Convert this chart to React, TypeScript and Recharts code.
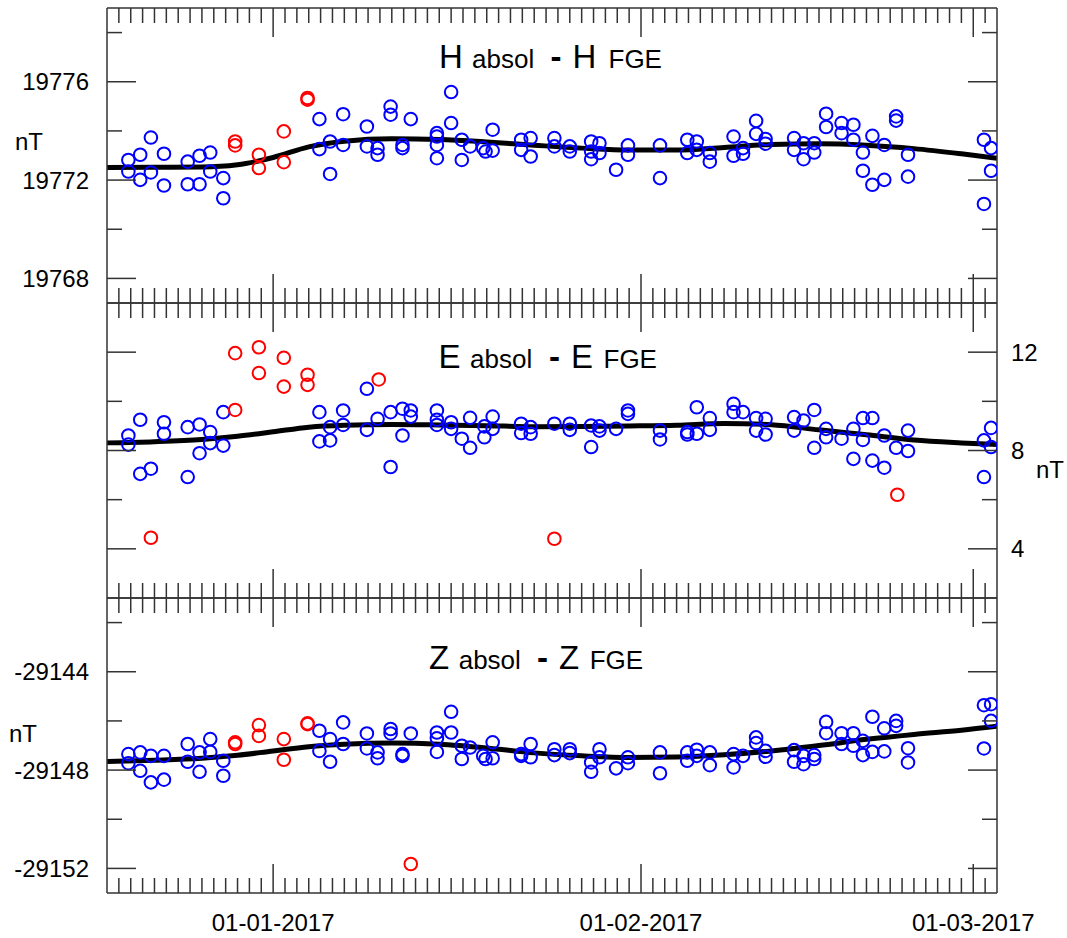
import { ComposedChart, Line, Scatter, XAxis, YAxis } from "recharts";

// x values are days counted from 01-01-2017
const xDomain = [-14, 61];
const dayTicks = Array.from({ length: 74 }, (_, i) => i - 13);
const monthStarts = [0, 31, 59];
const monthLabels = ["01-01-2017", "01-02-2017", "01-03-2017"];

const hTicks = [19768, 19770, 19772, 19774, 19776, 19778];
const hLabels = [19768, 19772, 19776];
const eTicks = [4, 6, 8, 10, 12];
const eLabels = [4, 8, 12];
const zTicks = [-29152, -29150, -29148, -29146, -29144, -29142];
const zLabels = [-29152, -29148, -29144];

const hBlue: [number, number][] = [
  [-12.2, 19772.82], [-12.2, 19772.35], [-11.2, 19773.03], [-11.2, 19772.01],
  [-10.3, 19773.73], [-10.3, 19772.31], [-9.2, 19773.07], [-9.2, 19771.78],
  [-7.2, 19772.75], [-7.2, 19771.83], [-6.2, 19772.99], [-6.2, 19771.83],
  [-5.3, 19773.12], [-5.3, 19772.35], [-4.2, 19772.08], [-4.2, 19771.26],
  [3.9, 19774.48], [3.9, 19773.26], [4.8, 19773.57], [4.8, 19772.25],
  [5.9, 19774.68], [5.9, 19773.43], [7.9, 19774.18], [7.9, 19773.37],
  [8.8, 19773.3], [8.8, 19773.03], [9.9, 19774.99], [9.9, 19774.66],
  [10.9, 19773.43], [10.9, 19773.3], [11.6, 19774.48],
  [13.8, 19773.91], [13.8, 19773.77], [13.8, 19773.43], [13.8, 19772.89],
  [15.0, 19775.58], [15.0, 19774.32], [15.9, 19773.64], [15.9, 19772.82],
  [16.6, 19773.37], [17.7, 19773.3], [17.9, 19773.16], [18.5, 19774.05], [18.5, 19773.2],
  [20.9, 19773.64], [20.9, 19773.23], [21.7, 19773.71], [21.7, 19772.96],
  [23.7, 19773.71], [23.7, 19773.37], [25.0, 19773.37], [25.0, 19773.16],
  [26.8, 19773.57], [26.8, 19773.16], [26.8, 19772.85], [27.5, 19773.5], [27.5, 19773.1],
  [28.9, 19772.42], [29.9, 19773.41], [29.9, 19773.03], [32.6, 19773.41], [32.6, 19772.08],
  [34.9, 19773.64], [34.9, 19773.1], [35.7, 19773.57], [35.7, 19773.23],
  [36.8, 19773.1], [36.8, 19772.75], [38.8, 19773.77], [38.8, 19772.99],
  [39.6, 19773.3], [39.6, 19773.07], [40.7, 19774.41], [40.7, 19773.88],
  [41.5, 19773.67], [41.5, 19773.48], [43.9, 19773.71], [43.9, 19773.23],
  [44.7, 19773.5], [44.7, 19772.85], [45.6, 19773.5], [45.6, 19773.12],
  [46.6, 19774.7], [46.6, 19774.16], [47.9, 19774.32], [47.9, 19773.91],
  [48.9, 19774.25], [48.9, 19773.64], [49.7, 19773.12], [49.7, 19772.38],
  [50.5, 19773.8], [50.5, 19771.81], [51.5, 19773.43], [51.5, 19772.01],
  [52.5, 19774.59], [52.5, 19774.42], [53.5, 19773.03], [53.5, 19772.14],
  [59.9, 19773.64], [59.9, 19771.03], [60.5, 19773.3], [60.5, 19772.38],
];
const hRed: [number, number][] = [
  [-3.2, 19773.57], [-3.2, 19773.41], [-1.2, 19773.03], [-1.2, 19772.49],
  [0.9, 19773.98], [0.9, 19772.73], [2.9, 19775.34], [2.9, 19775.27],
];
const hCurve: [number, number][] = [
  [-14, 19772.51], [-10, 19772.52], [-6, 19772.53], [-3, 19772.62], [0, 19772.92],
  [3, 19773.35], [6, 19773.58], [10, 19773.68], [14, 19773.65], [18, 19773.55],
  [22, 19773.42], [26, 19773.3], [30, 19773.22], [34, 19773.22], [38, 19773.33],
  [42, 19773.45], [46, 19773.48], [50, 19773.42], [54, 19773.28], [58, 19773.07], [61, 19772.89],
];

const eBlue: [number, number][] = [
  [-12.2, 8.61], [-12.2, 8.24], [-11.2, 9.25], [-11.2, 7.05], [-10.3, 7.26],
  [-9.2, 9.15], [-9.2, 8.68], [-7.2, 8.95], [-7.2, 6.92], [-6.2, 9.06], [-6.2, 7.89],
  [-5.3, 8.75], [-5.3, 8.3], [-4.2, 9.56], [-4.2, 8.2],
  [3.9, 9.56], [3.9, 8.37], [4.8, 8.95], [4.8, 8.41], [5.9, 9.63], [5.9, 9.04],
  [7.9, 10.51], [7.9, 8.84], [8.8, 9.29], [9.9, 9.56], [9.9, 7.33], [10.9, 9.7], [10.9, 8.61],
  [11.6, 9.63], [11.6, 9.38], [13.8, 9.63], [13.8, 9.25], [13.8, 9.04], [15.0, 9.15], [15.0, 8.88],
  [15.9, 8.48], [16.6, 9.33], [16.6, 8.11], [17.8, 8.98], [17.8, 8.54], [18.5, 9.38], [18.5, 8.88],
  [20.9, 9.09], [20.9, 8.71], [21.7, 8.95], [21.7, 8.68],
  [23.7, 9.09], [25.0, 9.09], [25.0, 8.84], [26.8, 9.02], [26.8, 8.14], [27.5, 8.98], [27.5, 8.81],
  [28.9, 8.88], [29.9, 9.63], [29.9, 9.49], [32.6, 8.81], [32.6, 8.45], [34.9, 8.75], [34.9, 8.65],
  [35.7, 9.76], [35.7, 8.68], [36.8, 9.32], [36.8, 8.84], [38.8, 9.9], [38.8, 9.56], [39.6, 9.56],
  [40.7, 9.32], [40.7, 8.81], [41.5, 9.29], [41.5, 8.65], [43.9, 9.36], [43.9, 8.81], [44.7, 9.22],
  [45.6, 9.65], [45.6, 8.11], [46.6, 8.88], [46.6, 8.54], [47.9, 8.48], [48.9, 8.88], [48.9, 7.66],
  [49.7, 9.32], [49.7, 8.43], [50.5, 9.32], [50.5, 7.59], [51.5, 8.61], [51.5, 7.3], [52.5, 8.11],
  [53.5, 8.81], [53.5, 7.98], [59.9, 8.41], [59.9, 6.92], [60.5, 8.92], [60.5, 8.14],
];
const eRed: [number, number][] = [
  [-10.3, 4.45], [-3.2, 11.96], [-3.2, 9.65], [-1.2, 12.2], [-1.2, 11.15], [0.9, 11.77],
  [0.9, 10.6], [2.9, 11.08], [2.9, 10.67], [8.9, 10.89], [23.7, 4.41], [52.6, 6.2],
];
const eCurve: [number, number][] = [
  [-14, 8.31], [-10, 8.36], [-6, 8.45], [-3, 8.58], [0, 8.76], [3, 8.95], [6, 9.03],
  [10, 9.06], [14, 9.04], [18, 9.01], [22, 8.97], [26, 8.98], [30, 9.0], [34, 9.03],
  [38, 9.1], [42, 9.05], [46, 8.84], [50, 8.64], [54, 8.43], [58, 8.31], [61, 8.24],
];

const zBlue: [number, number][] = [
  [-12.2, -29147.35], [-12.2, -29147.72], [-11.2, -29147.28], [-11.2, -29148.03],
  [-10.3, -29147.42], [-10.3, -29148.5], [-9.2, -29147.42], [-9.2, -29148.39],
  [-7.2, -29146.94], [-7.2, -29147.66], [-6.2, -29147.28], [-6.2, -29148.07],
  [-5.3, -29146.74], [-5.3, -29147.26], [-4.2, -29147.62], [-4.2, -29148.23],
  [3.9, -29146.4], [3.9, -29147.22], [4.8, -29146.74], [4.8, -29147.66],
  [5.9, -29146.06], [5.9, -29146.94], [7.9, -29146.51], [7.9, -29147.12],
  [8.8, -29147.28], [8.8, -29147.52], [9.9, -29146.33], [9.9, -29146.51],
  [10.9, -29147.35], [10.9, -29147.42], [11.6, -29146.51],
  [13.8, -29146.47], [13.8, -29146.71], [13.8, -29147.26], [15.0, -29145.63], [15.0, -29146.47],
  [15.9, -29147.01], [15.9, -29147.55], [16.6, -29147.08], [17.7, -29147.42], [17.9, -29147.55],
  [18.5, -29146.87], [18.5, -29147.52], [20.9, -29147.35], [20.9, -29147.42],
  [21.7, -29146.94], [21.7, -29147.48], [23.7, -29147.15], [23.7, -29147.39],
  [25.0, -29147.15], [25.0, -29147.31], [26.8, -29147.69], [26.8, -29148.07],
  [27.5, -29147.15], [27.5, -29147.48], [28.9, -29147.93], [29.9, -29147.48], [29.9, -29147.72],
  [32.6, -29147.28], [32.6, -29148.13], [34.9, -29147.28], [34.9, -29147.62],
  [35.7, -29147.17], [35.7, -29147.42], [36.8, -29147.28], [36.8, -29147.8],
  [38.8, -29147.35], [38.8, -29147.89], [39.6, -29147.42], [40.7, -29146.67], [40.7, -29146.9],
  [41.5, -29147.22], [41.5, -29147.46], [43.9, -29147.19], [43.9, -29147.66],
  [44.7, -29147.42], [44.7, -29147.76], [45.6, -29147.39], [45.6, -29147.55],
  [46.6, -29146.04], [46.6, -29146.5], [47.9, -29146.5], [47.9, -29146.94],
  [48.9, -29146.5], [48.9, -29147.01], [49.7, -29146.81], [49.7, -29147.39],
  [50.5, -29145.83], [50.5, -29147.26], [51.5, -29146.3], [51.5, -29147.24],
  [52.5, -29146.0], [52.5, -29146.2], [53.5, -29147.11], [53.5, -29147.69],
  [59.9, -29145.36], [59.9, -29147.12], [60.5, -29145.32], [60.5, -29146.0],
];
const zRed: [number, number][] = [
  [-3.2, -29146.87], [-3.2, -29146.94], [-1.2, -29146.17], [-1.2, -29146.61],
  [0.9, -29146.74], [0.9, -29147.58], [2.9, -29146.13], [2.9, -29146.1], [11.6, -29151.82],
];
const zCurve: [number, number][] = [
  [-14, -29147.65], [-10, -29147.6], [-6, -29147.52], [-3, -29147.4], [0, -29147.22],
  [3, -29147.05], [6, -29146.95], [10, -29146.9], [14, -29146.95], [18, -29147.1],
  [22, -29147.3], [26, -29147.42], [30, -29147.49], [34, -29147.47], [38, -29147.38],
  [42, -29147.22], [46, -29147.0], [50, -29146.75], [54, -29146.55], [58, -29146.38], [61, -29146.22],
];

const FONT = '"Liberation Sans", Arial, sans-serif';
const FRAME = "#333";

const toPts = (arr: [number, number][]) => arr.map(([d, v]) => ({ d, v }));

const ring = (color: string) => (props: any) => (
  <circle cx={props.cx} cy={props.cy} r={6.3} fill="none" stroke={color} strokeWidth={2} />
);

const xTick = (side: "top" | "bottom", withDates: boolean) => (props: any) => {
  const { x, y, payload } = props;
  const idx = monthStarts.indexOf(payload.value);
  const len = idx >= 0 ? 29 : 15;
  const dir = side === "top" ? 1 : -1;
  return (
    <g>
      <line x1={x} x2={x} y1={y} y2={y + dir * len} stroke={FRAME} strokeWidth={1.5} />
      {withDates && idx >= 0 && (
        <text x={x} y={y + 38} textAnchor="middle" fontSize={24} fontFamily={FONT} fill="#000">
          {monthLabels[idx]}
        </text>
      )}
    </g>
  );
};

const yTick = (side: "left" | "right", major: number[], withLabels: boolean) => (props: any) => {
  const { x, y, payload } = props;
  const isMajor = major.includes(payload.value);
  const len = isMajor ? 29 : 15;
  const dir = side === "left" ? 1 : -1;
  return (
    <g>
      <line x1={x} x2={x + dir * len} y1={y} y2={y} stroke={FRAME} strokeWidth={1.5} />
      {withLabels && isMajor && (
        <text
          x={side === "left" ? x - 18 : x + 14}
          y={y + 8.5}
          textAnchor={side === "left" ? "end" : "start"}
          fontSize={24}
          fontFamily={FONT}
          fill="#000"
        >
          {payload.value}
        </text>
      )}
    </g>
  );
};

type PanelProps = {
  blue: [number, number][];
  red: [number, number][];
  curve: [number, number][];
  yDomain: number[];
  yTicks: number[];
  yMajor: number[];
  labelSide: "left" | "right";
  withDates: boolean;
  height: number;
  top: number;
  bottom: number;
};

// x axes are 1px tall, so the plot sits 1px inside each margin
const Panel = ({ blue, red, curve, yDomain, yTicks, yMajor, labelSide, withDates, height, top, bottom }: PanelProps) => (
  <ComposedChart width={1067} height={height} margin={{ top: top - 1, right: 0, bottom: bottom - 1, left: 0 }}>
    <XAxis
      xAxisId="b"
      dataKey="d"
      type="number"
      orientation="bottom"
      domain={xDomain}
      ticks={dayTicks}
      interval={0}
      height={1}
      tickSize={0}
      tickMargin={0}
      tickLine={false}
      allowDataOverflow
      axisLine={{ stroke: FRAME, strokeWidth: 1.5 }}
      tick={xTick("bottom", withDates)}
    />
    <XAxis
      xAxisId="t"
      dataKey="d"
      type="number"
      orientation="top"
      domain={xDomain}
      ticks={dayTicks}
      interval={0}
      height={1}
      tickSize={0}
      tickMargin={0}
      tickLine={false}
      allowDataOverflow
      axisLine={{ stroke: FRAME, strokeWidth: 1.5 }}
      tick={xTick("top", false)}
    />
    <YAxis
      yAxisId="l"
      dataKey="v"
      type="number"
      orientation="left"
      domain={yDomain}
      ticks={yTicks}
      interval={0}
      width={107}
      tickSize={0}
      tickMargin={0}
      tickLine={false}
      allowDataOverflow
      axisLine={{ stroke: FRAME, strokeWidth: 1.5 }}
      tick={yTick("left", yMajor, labelSide === "left")}
    />
    <YAxis
      yAxisId="r"
      dataKey="v"
      type="number"
      orientation="right"
      domain={yDomain}
      ticks={yTicks}
      interval={0}
      width={70}
      tickSize={0}
      tickMargin={0}
      tickLine={false}
      allowDataOverflow
      axisLine={{ stroke: FRAME, strokeWidth: 1.5 }}
      tick={yTick("right", yMajor, labelSide === "right")}
    />
    <Scatter xAxisId="b" yAxisId="l" data={toPts(blue)} shape={ring("#0000ff")} isAnimationActive={false} />
    <Scatter xAxisId="b" yAxisId="l" data={toPts(red)} shape={ring("#ff0000")} isAnimationActive={false} />
    <Line
      xAxisId="b"
      yAxisId="l"
      data={toPts(curve)}
      dataKey="v"
      type="monotone"
      stroke="#000"
      strokeWidth={5}
      dot={false}
      activeDot={false}
      isAnimationActive={false}
    />
  </ComposedChart>
);

const Title = ({ letter, y, xs }: { letter: string; y: number; xs: number[] }) => (
  <text y={y} fontFamily={FONT} fill="#000">
    <tspan x={xs[0]} fontSize={33}>{letter}</tspan>
    <tspan x={xs[1]} fontSize={26}>absol</tspan>
    <tspan x={xs[2]} fontSize={33} fontWeight="bold">-</tspan>
    <tspan x={xs[3]} fontSize={33}>{letter}</tspan>
    <tspan x={xs[4]} fontSize={26}>FGE</tspan>
  </text>
);

export default function App() {
  return (
    <div style={{ position: "absolute", left: 0, top: 0, width: 1067, height: 938, background: "#fff" }}>
      <div style={{ position: "absolute", left: 0, top: 0 }}>
        <Panel blue={hBlue} red={hRed} curve={hCurve} yDomain={[19767, 19779]} yTicks={hTicks} yMajor={hLabels}
          labelSide="left" withDates={false} height={313} top={8} bottom={10} />
      </div>
      <div style={{ position: "absolute", left: 0, top: 293 }}>
        <Panel blue={eBlue} red={eRed} curve={eCurve} yDomain={[2, 14]} yTicks={eTicks} yMajor={eLabels}
          labelSide="right" withDates={false} height={315} top={10} bottom={10} />
      </div>
      <div style={{ position: "absolute", left: 0, top: 588 }}>
        <Panel blue={zBlue} red={zRed} curve={zCurve} yDomain={[-29153, -29141]} yTicks={zTicks} yMajor={zLabels}
          labelSide="left" withDates={true} height={350} top={10} bottom={45} />
      </div>
      <svg width={1067} height={938} style={{ position: "absolute", left: 0, top: 0, pointerEvents: "none" }}>
        <Title letter="H" y={67.5} xs={[439, 472, 550.5, 572.5, 608.5]} />
        <Title letter="E" y={367.5} xs={[438.5, 470, 549, 571, 603.5]} />
        <Title letter="Z" y={669} xs={[429, 458.7, 537, 559, 589.7]} />
        <text x={15} y={150} fontSize={24} fontFamily={FONT}>nT</text>
        <text x={1036} y={478} fontSize={24} fontFamily={FONT}>nT</text>
        <text x={9} y={742} fontSize={24} fontFamily={FONT}>nT</text>
      </svg>
    </div>
  );
}
